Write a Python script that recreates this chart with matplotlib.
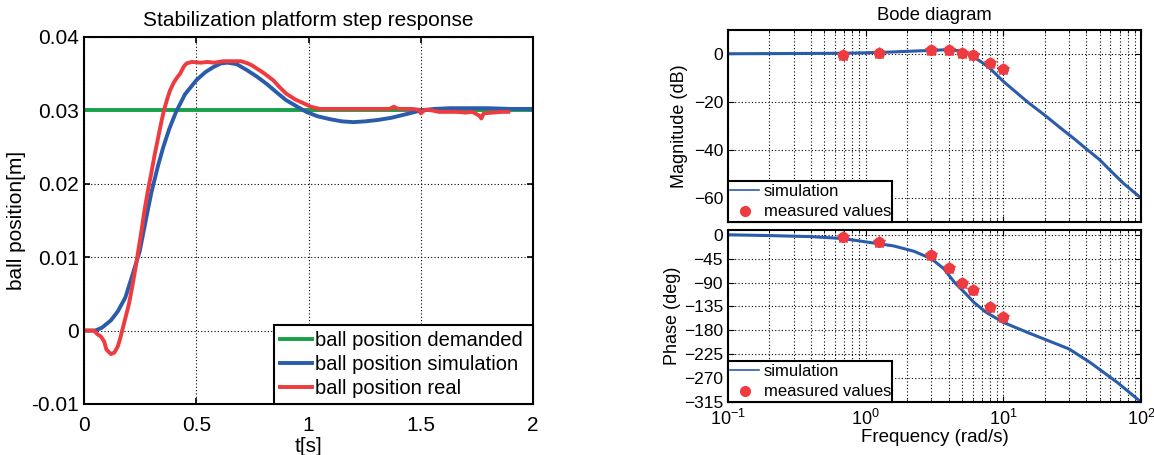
import numpy as np
import matplotlib
matplotlib.use("Agg")
import matplotlib.pyplot as plt
from matplotlib.lines import Line2D
from matplotlib.ticker import LogLocator, FixedLocator

plt.rcParams["font.family"] = ["Liberation Sans", "DejaVu Sans"]
plt.rcParams["mathtext.default"] = "regular"

# step response data
t_demand = [0.0, 2.0]
y_demand = [0.03, 0.03]

t_sim = [0.0, 0.05, 0.08, 0.12, 0.15, 0.184, 0.215, 0.248, 0.275, 0.30, 0.33, 0.353,
         0.38, 0.41, 0.45, 0.50, 0.54, 0.576, 0.61, 0.64, 0.68, 0.725, 0.77, 0.814,
         0.86, 0.90, 0.95, 0.99, 1.04, 1.096, 1.15, 1.20, 1.25, 1.31, 1.37, 1.41,
         1.45, 1.50, 1.56, 1.63, 1.80, 1.90, 2.00]
y_sim = [0.0, 0.0, 0.0004, 0.0014, 0.0026, 0.0045, 0.0075, 0.0108, 0.0150, 0.0188,
         0.0225, 0.0250, 0.0275, 0.0298, 0.0322, 0.0341, 0.0352, 0.0359, 0.0364,
         0.0365, 0.0363, 0.0355, 0.0346, 0.0336, 0.0324, 0.0314, 0.0305, 0.0298,
         0.0292, 0.0288, 0.0285, 0.0284, 0.0285, 0.0287, 0.0290, 0.0293, 0.0296,
         0.0300, 0.0302, 0.0303, 0.0303, 0.0302, 0.0302]

t_real = [0.0, 0.045, 0.06, 0.075, 0.09, 0.10, 0.12, 0.135, 0.15, 0.16, 0.17, 0.185,
          0.20, 0.215, 0.232, 0.245, 0.256, 0.27, 0.286, 0.30, 0.315, 0.331, 0.345,
          0.356, 0.37, 0.383, 0.40, 0.415, 0.428, 0.445, 0.457, 0.48, 0.52, 0.55,
          0.58, 0.62, 0.70, 0.73, 0.75, 0.77, 0.80, 0.843, 0.87, 0.90, 0.94, 0.976,
          1.01, 1.05, 1.20, 1.30, 1.36, 1.38, 1.40, 1.46, 1.49, 1.50, 1.52, 1.55,
          1.58, 1.66, 1.70, 1.73, 1.76, 1.77, 1.78, 1.82, 1.86, 1.89]
y_real = [0.0, 0.0, -0.0005, -0.0008, -0.0015, -0.0026, -0.0032, -0.0030, -0.0022,
          -0.0012, 0.0, 0.0018, 0.0036, 0.0060, 0.0090, 0.0115, 0.0136, 0.0165,
          0.0193, 0.0215, 0.0240, 0.0264, 0.0285, 0.0300, 0.0315, 0.0327, 0.0338,
          0.0345, 0.0350, 0.0360, 0.0364, 0.0366, 0.0365, 0.0366, 0.0365, 0.0367,
          0.0367, 0.0364, 0.0361, 0.0357, 0.0351, 0.0341, 0.0332, 0.0323, 0.0315,
          0.0310, 0.0305, 0.0302, 0.0302, 0.0302, 0.0302, 0.0305, 0.0302, 0.0302,
          0.0301, 0.0296, 0.0301, 0.0300, 0.0298, 0.0298, 0.0297, 0.0298, 0.0293,
          0.0289, 0.0296, 0.0297, 0.0298, 0.0298]

# bode data
w_sim = [0.1, 0.3, 0.7, 1.0, 1.5, 2.0, 3.0, 4.0, 4.7, 5.3, 6.0, 7.0, 8.0, 10, 15,
         20, 26, 33, 41, 50, 61, 75, 100]
mag_sim = [0.1, 0.2, 0.3, 0.5, 0.8, 1.1, 1.5, 1.8, 1.4, 0.6, -1.0, -3.5, -6.0,
           -11.4, -20, -25.5, -30.8, -35.5, -40, -44, -49, -54, -60]
w_ph = [0.1, 0.2, 0.4, 0.68, 1.25, 1.6, 2.24, 3.0, 3.7, 4.4, 5.2, 6.1, 7.5, 10,
        15, 30, 43, 68, 100]
ph_sim = [0, -1.5, -3.5, -7, -17, -21, -31, -45, -64, -89, -108, -127, -146, -165,
          -184, -215, -241, -279, -315]

w_meas = [0.684, 1.25, 3.0, 4.05, 5.0, 6.05, 8.0, 10.0]
mag_meas = [-0.3, 0.4, 1.5, 1.8, 0.4, -0.6, -3.75, -6.1]
ph_meas = [-4, -14, -38, -62, -91, -104, -136, -154]

red = "#ee3b3f"
blue = "#2b5cab"
green = "#18a048"
grid_kw = dict(color="k", linestyle=(0, (1, 2)), linewidth=0.8)

fig = plt.figure(figsize=(11.54, 4.55), dpi=100)

# ---- step response
ax = fig.add_axes([0.0728, 0.1121, 0.3891, 0.8066])
ax.plot(t_demand, y_demand, color=green, lw=2.8, label="ball position demanded")
ax.plot(t_sim, y_sim, color=blue, lw=2.8, label="ball position simulation")
ax.plot(t_real, y_real, color=red, lw=2.8, label="ball position real")
ax.set_xlim(0, 2)
ax.set_ylim(-0.01, 0.04)
ax.set_xticks([0, 0.5, 1, 1.5, 2])
ax.set_xticklabels(["0", "0.5", "1", "1.5", "2"])
ax.set_yticks([-0.01, 0, 0.01, 0.02, 0.03, 0.04])
ax.set_yticklabels(["-0.01", "0", "0.01", "0.02", "0.03", "0.04"])
ax.tick_params(labelsize=15, direction="in", length=4, width=1.2, top=True, right=True)
ax.tick_params(axis="x", pad=9)
ax.grid(True, **grid_kw)
ax.set_xlabel("t[s]", fontsize=15, labelpad=1)
ax.set_ylabel("ball position[m]", fontsize=15, labelpad=4)
ax.set_title("Stabilization platform step response", fontsize=15, pad=8)
for s in ax.spines.values():
    s.set_linewidth(1.5)
leg = ax.legend(loc="lower right", bbox_to_anchor=(0.423, 0, 0.577, 1), mode="expand",
                borderaxespad=0, fontsize=14.5, handlelength=1.6, handletextpad=0.15,
                labelspacing=0.25, fancybox=False, framealpha=1, edgecolor="k",
                borderpad=0.3)
leg.get_frame().set_linewidth(1.5)


def bode_axes(rect):
    a = fig.add_axes(rect)
    a.set_xscale("log")
    a.set_xlim(0.1, 100)
    a.xaxis.set_major_locator(LogLocator(base=10, numticks=10))
    a.xaxis.set_minor_locator(LogLocator(base=10, subs=np.arange(2, 10), numticks=20))
    a.grid(True, which="major", **grid_kw)
    a.grid(True, which="minor", axis="x", **grid_kw)
    a.tick_params(which="both", direction="in", top=True, right=True, labelsize=12.5)
    a.tick_params(which="major", length=4)
    a.tick_params(which="minor", length=2)
    for s in a.spines.values():
        s.set_linewidth(1.5)
    return a


def bode_legend(a, h):
    handles = [Line2D([], [], color=blue, lw=1.2),
               Line2D([], [], color=red, marker="o", ls="none", ms=7)]
    lg = a.legend(handles, ["simulation", "measured values"], loc="lower left",
                  bbox_to_anchor=(0, 0, 0.397, h), mode="expand", borderaxespad=0,
                  fontsize=12, handlelength=1.7, handletextpad=0.3, labelspacing=0.35,
                  fancybox=False, framealpha=1, edgecolor="k", borderpad=0.15)
    lg.get_frame().set_linewidth(1.5)


# ---- magnitude
am = bode_axes([0.6308, 0.5121, 0.3579, 0.4220])
am.plot(w_sim, mag_sim, color=blue, lw=2.2)
am.plot(w_meas, mag_meas, color=red, marker="o", ls="none", ms=7)
am.plot(w_meas, mag_meas, color=red, marker="*", ls="none", ms=9)
am.set_ylim(-70, 10)
am.yaxis.set_major_locator(FixedLocator([-60, -40, -20, 0]))
am.tick_params(axis="x", which="both", labelbottom=False)
am.set_ylabel("Magnitude (dB)", fontsize=13, labelpad=4)
am.set_title("Bode diagram", fontsize=13.3, pad=7)
bode_legend(am, 0.224)

# ---- phase
ap = bode_axes([0.6308, 0.1165, 0.3579, 0.3780])
ap.plot(w_ph, ph_sim, color=blue, lw=2.2)
ap.plot(w_meas, ph_meas, color=red, marker="o", ls="none", ms=7)
ap.plot(w_meas, ph_meas, color=red, marker="*", ls="none", ms=9)
ap.set_ylim(-315, 9)
ap.yaxis.set_major_locator(FixedLocator([-315, -270, -225, -180, -135, -90, -45, 0]))
ap.set_ylabel("Phase (deg)", fontsize=13, labelpad=2)
ap.set_xlabel("Frequency (rad/s)", fontsize=13.5, labelpad=0)
ap.tick_params(axis="x", labelsize=13, pad=5)
bode_legend(ap, 0.26)

fig.savefig("out.png", dpi=100)
